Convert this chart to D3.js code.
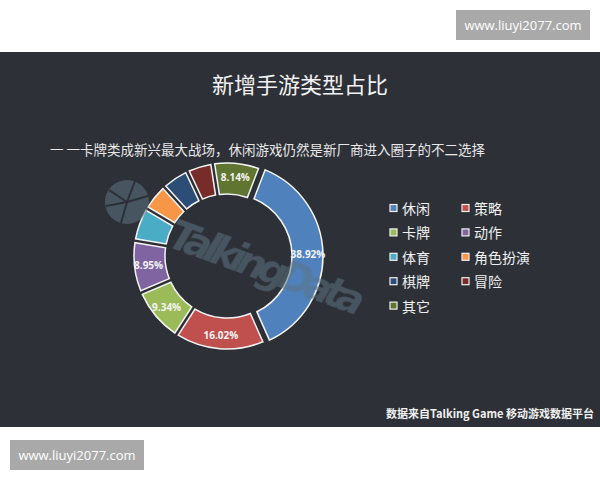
<!DOCTYPE html>
<html><head><meta charset="utf-8">
<script src="https://cdn.jsdelivr.net/npm/d3@7"></script>
<style>body{margin:0;background:#fff;}svg{display:block;}</style>
</head><body>
<svg id="c" width="600" height="480"></svg>
<script>
const categories = ["休闲","策略","卡牌","动作","体育","角色扮演","棋牌","冒险","其它"];
const values = [38.92, 16.02, 9.34, 8.95, 5.62, 4.38, 4.45, 4.18, 8.14];
const colors = ["#4f81bd","#c0504d","#9bbb59","#8064a2","#4bacc6","#f79646","#2c4d75","#772c2a","#5f7530"];
const legendOrder = ["休闲","策略","卡牌","动作","体育","角色扮演","棋牌","冒险","其它"];
const title = "新增手游类型占比";
const subtitle = "一 一卡牌类成新兴最大战场，休闲游戏仍然是新厂商进入圈子的不二选择";
const source = "数据来自Talking Game 移动游戏数据平台";
const siteMark = "www.liuyi2077.com";

const svg = d3.select("#c");
const font = "'Noto Sans CJK SC','Microsoft YaHei',sans-serif";

// panel
svg.append("rect").attr("x",0).attr("y",52).attr("width",600).attr("height",375).attr("fill","#2e3037");

// site watermarks
[[456,10],[10,440]].forEach(([x,y])=>{
  svg.append("rect").attr("x",x).attr("y",y).attr("width",134).attr("height",30).attr("fill","#a9a9a9");
  svg.append("text").attr("x",x+67).attr("y",y+15).attr("text-anchor","middle").attr("dominant-baseline","central")
    .attr("font-family","'Open Sans',sans-serif").attr("font-size",13).attr("fill","#fff").text(siteMark);
});

svg.append("text").attr("x",300).attr("y",83).attr("text-anchor","middle").attr("dominant-baseline","central")
  .attr("font-family",font).attr("font-size",22).attr("fill","#f2f2f2").text(title);
svg.append("text").attr("x",50).attr("y",149).attr("dominant-baseline","central")
  .attr("font-family",font).attr("font-size",13.5).attr("fill","#e8e8e8").text(subtitle);
svg.append("text").attr("x",594).attr("y",413).attr("text-anchor","end").attr("dominant-baseline","central")
  .attr("font-family",font).attr("font-size",11).attr("font-weight","bold").attr("fill","#f0f0f0").text(source);

// donut
const cx = 227, cy = 256, R = 93, r = 62;
const start = 21*Math.PI/180;
const pie = d3.pie().sort(null).startAngle(start).endAngle(start+2*Math.PI).padAngle(0.035);
const arc = d3.arc().innerRadius(r).outerRadius(R);
const arcs = pie(values);
const g = svg.append("g").attr("transform",`translate(${cx},${cy})`);
g.selectAll("path").data(arcs).join("path")
  .attr("d",arc)
  .attr("transform",(d,i)=>{ if(i!==0) return null; const a=(d.startAngle+d.endAngle)/2; return `translate(${3*Math.sin(a)},${-3*Math.cos(a)})`; })
  .attr("fill",(d,i)=>colors[i]).attr("stroke","#f4f4f4").attr("stroke-width",1.5);
const labelArc = d3.arc().innerRadius(r+16).outerRadius(R);
g.selectAll("text.lbl").data(arcs.filter(d=>d.data>8)).join("text").attr("class","lbl")
  .attr("transform",d=>{const c=d3.arc().innerRadius(r).outerRadius(R).centroid(d); const a=(d.startAngle+d.endAngle)/2; const k=(79+(d.index===0?2:0))/Math.hypot(c[0],c[1]); return `translate(${c[0]*k},${c[1]*k})`;})
  .attr("text-anchor","middle").attr("dominant-baseline","central")
  .attr("font-family","'Open Sans',sans-serif").attr("font-size",10).attr("font-weight","bold").attr("fill","#f4f4f4")
  .text(d=>d.data.toFixed(2)+"%");

// TalkingData watermark
const wm = svg.append("g").attr("opacity",0.55);
const logo = wm.append("g").attr("transform","translate(127,202)");
logo.append("circle").attr("r",22).attr("fill","#5d7584");
[[-18,-12,0,0],[0,0,8,-21],[0,0,21,-6],[0,0,-6,21],[-21,4,0,0]].forEach(l=>logo.append("line")
  .attr("x1",l[0]).attr("y1",l[1]).attr("x2",l[2]).attr("y2",l[3]).attr("stroke","#2e3037").attr("stroke-width",2));
wm.append("text").attr("transform","translate(166,246) rotate(20)")
  .attr("font-family","'DejaVu Sans',sans-serif").attr("font-size",40).attr("font-weight","bold").attr("font-style","italic")
  .attr("fill","#5d7584").attr("textLength",205).text("TalkingData");

// legend
const lg = svg.append("g");
categories.forEach((c,i)=>{
  const col = i%2, row = Math.floor(i/2);
  const x = 390 + col*72, y = 208 + row*24.4;
  lg.append("rect").attr("x",x).attr("y",y-3.5).attr("width",7).attr("height",7)
    .attr("fill",colors[i]).attr("stroke","#f0f0f0").attr("stroke-width",1.2);
  lg.append("text").attr("x",x+12).attr("y",y).attr("dominant-baseline","central")
    .attr("font-family",font).attr("font-size",14).attr("fill","#f0f0f0").text(c);
});
</script>
</body></html>
